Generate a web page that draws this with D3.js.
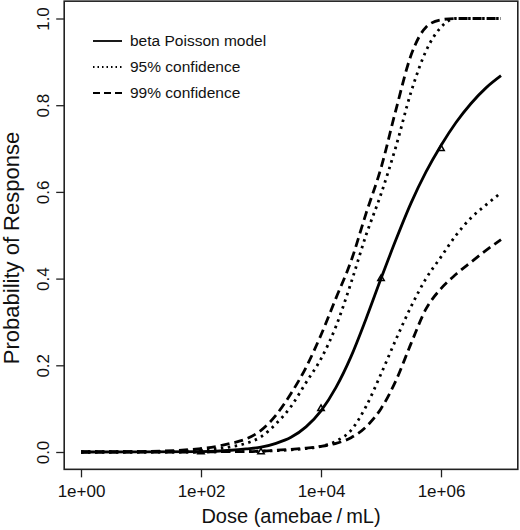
<!DOCTYPE html>
<html>
<head>
<meta charset="utf-8">
<script src="https://cdn.jsdelivr.net/npm/d3@7"></script>
<style>
    body { margin: 0; background: #fff; }
    text { font-family: "Liberation Sans", Arial, Helvetica, sans-serif; fill: #111; }
</style>
</head>
<body>
<script>
// dose grid (amebae/mL), read at quarter decades
const doses = [1, 10, 100, 316, 562, 1000, 1778, 3162, 5623, 1e4, 17783, 31623, 56234,
    1e5, 177828, 316228, 562341, 1e6, 1778279, 3162278, 5623413, 1e7];

// probability of response
const model = [0, 0.0001, 0.001, 0.004, 0.007, 0.011, 0.02, 0.034, 0.058, 0.095, 0.149, 0.22, 0.307,
    0.40, 0.49, 0.574, 0.646, 0.707, 0.76, 0.804, 0.84, 0.868];
const upper95 = [0, 0.0005, 0.004, 0.012, 0.02, 0.035, 0.065, 0.105, 0.16, 0.215, 0.29, 0.39, 0.5,
    0.595, 0.705, 0.83, 0.925, 0.98, 1.0, 1.0, 1.0, 1.0];
const lower95 = [0, 0, 0, 0.001, 0.001, 0.002, 0.003, 0.005, 0.008, 0.013, 0.025, 0.05, 0.105,
    0.18, 0.26, 0.335, 0.4, 0.45, 0.5, 0.54, 0.57, 0.598];
const upper99 = [0, 0.001, 0.008, 0.02, 0.03, 0.05, 0.085, 0.135, 0.195, 0.27, 0.355, 0.44, 0.55,
    0.655, 0.79, 0.915, 0.98, 0.997, 1.0, 1.0, 1.0, 1.0];
const lower99 = [0, 0, 0, 0.001, 0.001, 0.002, 0.004, 0.006, 0.009, 0.013, 0.02, 0.033, 0.058,
    0.1, 0.165, 0.25, 0.33, 0.377, 0.41, 0.438, 0.465, 0.49];

// observed points
const obsDose = [100, 1000, 1e4, 1e5, 1e6];
const obsResp = [0, 0, 0.1, 0.4, 0.7];

const xTicks = [1, 1e2, 1e4, 1e6];
const yTicks = [0, 0.2, 0.4, 0.6, 0.8, 1.0];

const legendLabels = ["beta Poisson model", "95% confidence", "99% confidence"];

let width = 520,
    height = 530;

let svg = d3.select("body")
    .append("svg")
    .attr("width", width)
    .attr("height", height);

let x = d3.scaleLog().domain([1, 1e7]).range([81, 501]);
let y = d3.scaleLinear().domain([0, 1]).range([452, 18.5]);

// R style 4% padding box
let padX = (x(1e7) - x(1)) * 0.04,
    padY = (y(0) - y(1)) * 0.04;
let boxLeft = x(1) - padX, boxRight = x(1e7) + padX,
    boxTop = y(1) - padY, boxBottom = y(0) + padY;

let line = d3.line()
    .x(d => x(d[0]))
    .y(d => y(d[1]))
    .curve(d3.curveMonotoneX);

let series = [
    { vals: lower99, dash: "9,5" },
    { vals: upper99, dash: "9,5" },
    { vals: lower95, dash: "2.5,4.5" },
    { vals: upper95, dash: "2.5,4.5" },
    { vals: model, dash: null }
];

series.forEach(s => {
    svg.append("path")
        .datum(doses.map((d, i) => [d, s.vals[i]]))
        .attr("d", line)
        .attr("fill", "none")
        .attr("stroke", "#000")
        .attr("stroke-width", 2.8)
        .attr("stroke-dasharray", s.dash);
});

// observed points as small triangles
svg.selectAll(".obs")
    .data(obsDose.map((d, i) => [d, obsResp[i]]))
    .enter()
    .append("path")
    .attr("class", "obs")
    .attr("transform", d => `translate(${x(d[0])},${y(d[1])})`)
    .attr("d", d3.symbol(d3.symbolTriangle, 18))
    .attr("fill", "none")
    .attr("stroke", "#000")
    .attr("stroke-width", 1.5);

// frame
svg.append("rect")
    .attr("x", boxLeft)
    .attr("y", boxTop)
    .attr("width", boxRight - boxLeft)
    .attr("height", boxBottom - boxTop)
    .attr("fill", "none")
    .attr("stroke", "#222")
    .attr("stroke-width", 1.6);

// x axis
let xAxis = svg.append("g")
    .attr("transform", `translate(0,${boxBottom})`)
    .call(d3.axisBottom(x)
        .tickValues(xTicks)
        .tickSize(8)
        .tickPadding(6)
        .tickFormat(d => "1e+" + String(Math.round(Math.log10(d))).padStart(2, "0")));
xAxis.select(".domain").remove();
xAxis.selectAll("line").attr("stroke", "#222").attr("stroke-width", 1.3);
xAxis.selectAll("text")
    .attr("font-size", 17)
    .attr("fill", "#111")
    .attr("y", 28)
    .attr("dy", "0");

// y axis
let yAxis = svg.append("g")
    .attr("transform", `translate(${boxLeft},0)`)
    .call(d3.axisLeft(y)
        .tickValues(yTicks)
        .tickSize(8)
        .tickFormat(d3.format(".1f")));
yAxis.select(".domain").remove();
yAxis.selectAll("line").attr("stroke", "#222").attr("stroke-width", 1.3);
yAxis.selectAll("text")
    .attr("font-size", 17)
    .attr("fill", "#111")
    .attr("x", 0)
    .attr("dy", "0")
    .attr("text-anchor", "middle")
    .attr("transform", "translate(-15,0) rotate(-90)");

// axis titles
svg.append("text")
    .attr("x", (x(1) + x(1e7)) / 2)
    .attr("y", 523)
    .attr("text-anchor", "middle")
    .attr("font-size", 20)
    .text("Dose (amebae\u2009/\u2009mL)");

svg.append("text")
    .attr("transform", "translate(18.5,248) rotate(-90)")
    .attr("text-anchor", "middle")
    .attr("font-size", 22)
    .text("Probability of Response");

// legend
let legendDash = [null, "1.5,3", "7,4"];
let legend = svg.append("g");
legendLabels.forEach((lab, i) => {
    let ly = 41 + i * 26;
    legend.append("line")
        .attr("x1", 93).attr("x2", 122)
        .attr("y1", ly).attr("y2", ly)
        .attr("stroke", "#000")
        .attr("stroke-width", 1.8)
        .attr("stroke-dasharray", legendDash[i]);
    legend.append("text")
        .attr("x", 130)
        .attr("y", ly)
        .attr("dy", "0.35em")
        .attr("font-size", 15.5)
        .text(lab);
});
</script>
</body>
</html>
